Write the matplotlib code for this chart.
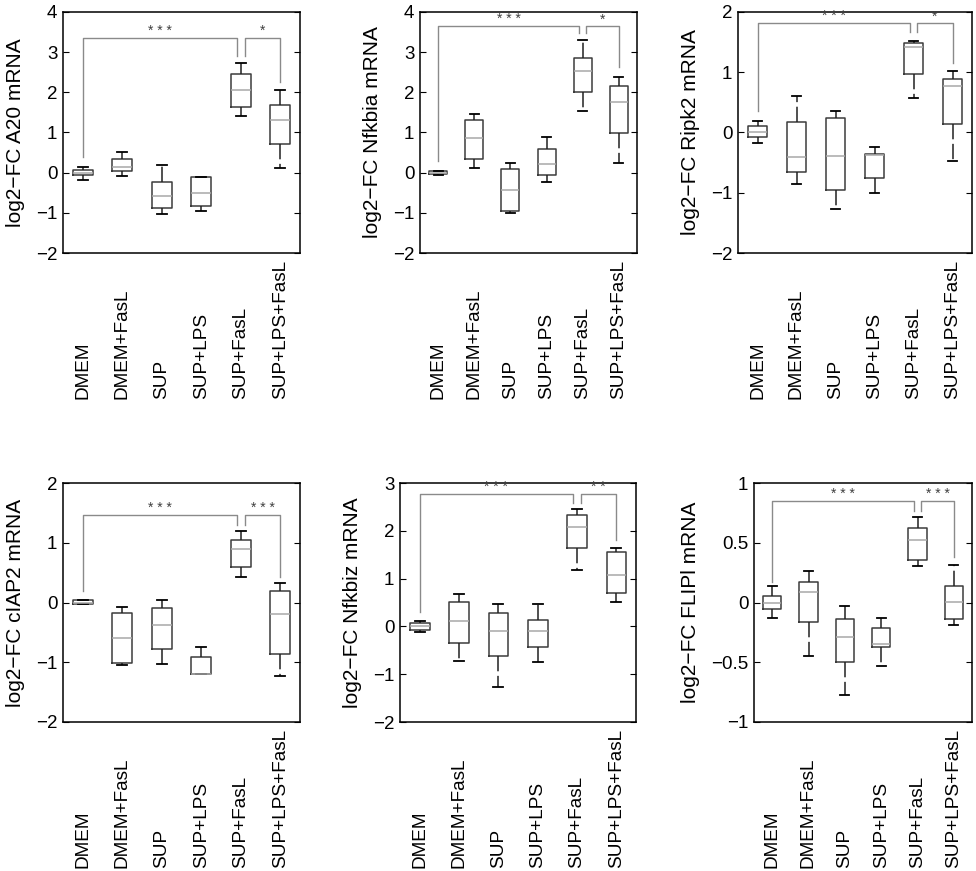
import matplotlib
matplotlib.use('Agg')
import matplotlib.pyplot as plt
from matplotlib.ticker import FuncFormatter, MultipleLocator

plt.rcParams['font.family'] = ['Liberation Sans', 'DejaVu Sans']

groups = ['DMEM', 'DMEM+FasL', 'SUP', 'SUP+LPS', 'SUP+FasL', 'SUP+LPS+FasL']

# each row: whisker low, q1, median, q3, whisker high
a20 = [[-0.18, -0.07, 0.0, 0.07, 0.15],
       [-0.08, 0.03, 0.15, 0.33, 0.51],
       [-1.02, -0.88, -0.58, -0.22, 0.18],
       [-0.95, -0.84, -0.51, -0.11, -0.11],
       [1.40, 1.63, 2.06, 2.46, 2.72],
       [0.11, 0.72, 1.31, 1.69, 2.06]]
nfkbia = [[-0.06, -0.03, 0.0, 0.03, 0.03],
          [0.12, 0.33, 0.87, 1.32, 1.46],
          [-1.01, -0.96, -0.43, 0.08, 0.25],
          [-0.22, -0.06, 0.22, 0.59, 0.89],
          [1.54, 2.02, 2.53, 2.85, 3.30],
          [0.23, 0.99, 1.77, 2.16, 2.38]]
ripk2 = [[-0.17, -0.08, 0.0, 0.10, 0.19],
         [-0.86, -0.66, -0.41, 0.17, 0.61],
         [-1.27, -0.96, -0.39, 0.24, 0.36],
         [-1.00, -0.76, -0.37, -0.36, -0.24],
         [0.58, 0.97, 1.42, 1.49, 1.52],
         [-0.47, 0.14, 0.78, 0.88, 1.02]]
ciap2 = [[-0.03, -0.03, 0.0, 0.04, 0.04],
         [-1.05, -1.01, -0.59, -0.17, -0.07],
         [-1.03, -0.77, -0.38, -0.10, 0.04],
         [-1.20, -1.20, -1.19, -0.91, -0.74],
         [0.42, 0.60, 0.89, 1.05, 1.20],
         [-1.23, -0.86, -0.20, 0.20, 0.32]]
nfkbiz = [[-0.12, -0.07, 0.0, 0.07, 0.12],
          [-0.72, -0.35, 0.12, 0.51, 0.67],
          [-1.26, -0.62, -0.09, 0.27, 0.46],
          [-0.75, -0.44, -0.09, 0.14, 0.46],
          [1.19, 1.65, 2.08, 2.34, 2.45],
          [0.51, 0.70, 1.07, 1.56, 1.65]]
flipl = [[-0.126, -0.056, 0.0, 0.056, 0.134],
         [-0.447, -0.162, 0.092, 0.168, 0.265],
         [-0.774, -0.494, -0.288, -0.14, -0.028],
         [-0.53, -0.372, -0.344, -0.215, -0.126],
         [0.302, 0.355, 0.522, 0.62, 0.718],
         [-0.187, -0.14, 0.008, 0.14, 0.316]]

genes = ['A20', 'Nfkbia', 'Ripk2', 'cIAP2', 'Nfkbiz', 'FLIPl']
panel_data = [a20, nfkbia, ripk2, ciap2, nfkbiz, flipl]
ylims = [(-2, 4), (-2, 4), (-2, 2), (-2, 2), (-2, 3), (-1, 1)]
ysteps = [1, 1, 1, 1, 1, 0.5]

# significance brackets: bar height, leg ends (DMEM, SUP+FasL, SUP+LPS+FasL)
brackets = [[3.35, 0.40, 2.90, 2.25],
            [3.64, 0.30, 3.47, 2.64],
            [1.81, 0.35, 1.66, 1.16],
            [1.46, 0.20, 1.29, 0.43],
            [2.77, 0.30, 2.58, 1.80],
            [0.846, 0.168, 0.768, 0.377]]
stars = [('***', '*'), ('***', '*'), ('***', '*'),
         ('***', '***'), ('***', '**'), ('***', '***')]

# axes boxes in pixels: left, top, right, bottom
W, H = 976, 871
boxes = [(63, 12, 300, 253), (420, 12, 637, 253), (738, 12, 972, 253),
         (63, 483, 300, 722), (400, 483, 636, 722), (754, 483, 972, 722)]

fig = plt.figure(figsize=(W / 100, H / 100), dpi=100)

fmt = FuncFormatter(lambda v, p: '{:g}'.format(v).replace('-', '\u2212'))

for i in range(6):
    l, t, r, b = boxes[i]
    ax = fig.add_axes([l / W, 1 - b / H, (r - l) / W, (b - t) / H])

    stats = []
    for row in panel_data[i]:
        stats.append({'whislo': row[0], 'q1': row[1], 'med': row[2],
                      'q3': row[3], 'whishi': row[4], 'fliers': []})
    ax.bxp(stats, positions=range(1, 7), widths=0.5, capwidths=0.25,
           showfliers=False,
           boxprops=dict(color='#3c3c3c', linewidth=1.1),
           medianprops=dict(color='#a8a8a8', linewidth=1.1),
           whiskerprops=dict(color='#202020', linewidth=1.1, linestyle=(0, (10, 3))),
           capprops=dict(color='black', linewidth=1.3))

    # brackets
    h, y1, y2, y3 = brackets[i]
    ax.plot([1, 1, 4.9, 4.9], [y1, h, h, y2], color='#8a8a8a', linewidth=1.0)
    ax.plot([5.1, 5.1, 6, 6], [y2, h, h, y3], color='#8a8a8a', linewidth=1.0)
    ax.text(2.95, h, ' '.join(stars[i][0]), ha='center', va='bottom',
            fontsize=10, color='#404040')
    ax.text(5.55, h, ' '.join(stars[i][1]), ha='center', va='bottom',
            fontsize=10, color='#404040')

    ax.set_xlim(0.5, 6.5)
    ax.set_ylim(*ylims[i])
    ax.yaxis.set_major_locator(MultipleLocator(ysteps[i]))
    ax.yaxis.set_major_formatter(fmt)
    ax.tick_params(axis='y', direction='in', left=True, right=True, length=4,
                   labelsize=13.5, pad=4)
    ax.set_xticks(range(1, 7))
    ax.set_xticklabels(groups, rotation=90, va='bottom', fontsize=13.7)
    ax.tick_params(axis='x', length=0, pad=105)
    for s in ax.spines.values():
        s.set_linewidth(1.1)
    ax.set_ylabel('log2\u2212FC ' + genes[i] + ' mRNA', fontsize=15, labelpad=8)

plt.savefig('out.png', dpi=100)
